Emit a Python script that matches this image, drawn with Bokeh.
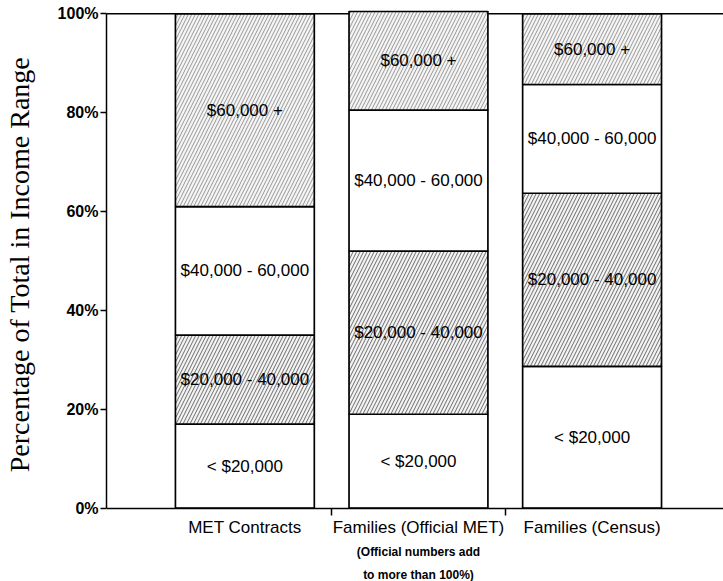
from bokeh.plotting import figure
from bokeh.models import Range1d, FixedTicker, Span
from bokeh.core.properties import value
from bokeh.embed import file_html
from bokeh.resources import INLINE

# ---- data ----
categories = ["MET Contracts", "Families (Official MET)", "Families (Census)"]
note_lines = ["(Official numbers add", "to more than 100%)"]
brackets = ["< $20,000", "$20,000 - 40,000", "$40,000 - 60,000", "$60,000 +"]
under_20k = [17.0, 19.0, 28.7]
k20_40k = [18.0, 33.0, 35.0]
k40_60k = [26.0, 28.5, 22.0]
over_60k = [39.0, 20.0, 14.3]
y_ticks = [0, 20, 40, 60, 80, 100]
y_tick_labels = ["0%", "20%", "40%", "60%", "80%", "100%"]
y_title = "Percentage of Total in Income Range"

series = [under_20k, k20_40k, k40_60k, over_60k]
xs = [i + 1 for i in range(len(categories))]
between = [i + 1.5 for i in range(len(categories) - 1)]

SANS = "Liberation Sans"
SERIF = "Liberation Serif"

p = figure(width=723, height=581, output_backend="svg", toolbar_location=None,
           x_range=Range1d(0.203, 3.757), y_range=Range1d(-14.83, 100.67),
           min_border_left=101, min_border_right=0, min_border_top=10,
           min_border_bottom=0)
p.outline_line_color = None
p.xgrid.visible = False
p.ygrid.visible = False
p.background_fill_color = "white"

# 100% reference line under the bars
p.add_layout(Span(location=100, dimension="width", line_color="black",
                  line_width=1.5, level="underlay"))

styles = [
    dict(fill_color="white"),
    dict(fill_color="#f3f3f3", hatch_pattern="/", hatch_scale=7,
         hatch_weight=1.0, hatch_color="#222222", hatch_alpha=0.65),
    dict(fill_color="white"),
    dict(fill_color="#f5f5f5", hatch_pattern="/", hatch_scale=7,
         hatch_weight=0.9, hatch_color="#333333", hatch_alpha=0.55),
]

bottoms = [0.0] * len(xs)
for name, vals, st in zip(brackets, series, styles):
    tops = [b + v for b, v in zip(bottoms, vals)]
    p.vbar(x=xs, bottom=bottoms, top=tops, width=0.8,
           line_color="black", line_width=1.7, **st)
    mids = [(b + t) / 2 for b, t in zip(bottoms, tops)]
    p.text(x=xs, y=mids, text=[name] * len(xs), text_align="center",
           text_baseline="middle", text_font=value(SANS),
           text_font_size="17px", text_color="black")
    bottoms = tops

# y axis
ya = p.yaxis[0]
ya.ticker = FixedTicker(ticks=y_ticks)
ya.major_label_overrides = {t: l for t, l in zip(y_ticks, y_tick_labels)}
ya.bounds = (0, 100)
ya.minor_tick_line_color = None
ya.major_tick_out = 6
ya.major_tick_in = 0
ya.major_tick_line_width = 1.5
ya.axis_line_width = 1.5
ya.major_label_standoff = 2
ya.major_label_text_font = SANS
ya.major_label_text_font_style = "bold"
ya.major_label_text_font_size = "16px"
ya.major_label_text_color = "black"
# leading no-break spaces lift the centred title onto the 0-100 span
ya.axis_label = "\u00a0" * 9 + y_title
ya.axis_label_text_font = SERIF
ya.axis_label_text_font_style = "normal"
ya.axis_label_text_font_size = "28px"
ya.axis_label_text_color = "black"
ya.axis_label_standoff = 20

# x axis drawn at y = 0 inside the frame, small ticks between the bars
xa = p.xaxis[0]
xa.fixed_location = 0
xa.ticker = FixedTicker(ticks=xs, minor_ticks=between)
xa.major_label_overrides = {x: c for x, c in zip(xs, categories)}
xa.major_tick_line_color = None
xa.major_tick_out = 7
xa.major_tick_in = 0
xa.minor_tick_out = 7
xa.minor_tick_in = 0
xa.minor_tick_line_width = 1.5
xa.axis_line_width = 1.5
xa.major_label_standoff = 3
xa.major_label_text_font = SANS
xa.major_label_text_font_size = "17px"
xa.major_label_text_color = "black"

# note under the middle category (two lines, below the axis)
for i, line in enumerate(note_lines):
    p.text(x=[xs[1]], y=[0], text=[line], y_offset=44 + 23 * i,
           text_align="center", text_baseline="middle",
           text_font=value(SANS), text_font_style="bold",
           text_font_size="12px", text_color="black")

open("out.html", "w").write(file_html(p, INLINE))
